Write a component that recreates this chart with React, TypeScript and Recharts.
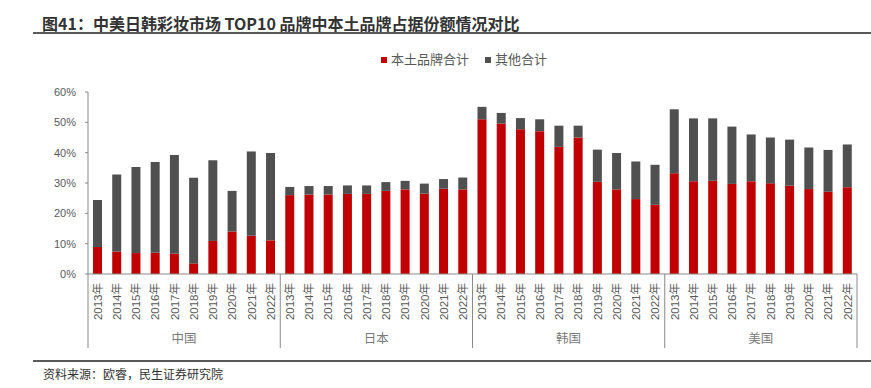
import React from "react";
import { BarChart, Bar, XAxis, YAxis } from "recharts";

const countries = ["中国", "日本", "韩国", "美国"];
const years = ["2013年", "2014年", "2015年", "2016年", "2017年", "2018年", "2019年", "2020年", "2021年", "2022年"];

// 本土品牌合计 (%)
const chinaLocal = [8.9, 7.4, 6.9, 7.0, 6.7, 3.5, 10.9, 14.0, 12.6, 11.1];
const japanLocal = [26.0, 26.2, 26.2, 26.4, 26.4, 27.4, 27.9, 26.5, 28.1, 27.9];
const koreaLocal = [51.0, 49.6, 47.7, 47.1, 41.9, 45.0, 30.4, 27.9, 24.7, 22.8];
const usLocal = [33.2, 30.6, 30.7, 29.7, 30.6, 29.9, 29.1, 28.0, 27.1, 28.6];

// 其他合计 (%)
const chinaOther = [15.5, 25.4, 28.4, 29.9, 32.5, 28.2, 26.6, 13.4, 27.8, 28.8];
const japanOther = [2.7, 2.8, 2.8, 2.8, 2.8, 2.9, 2.8, 3.3, 3.2, 3.9];
const koreaOther = [4.1, 3.5, 3.7, 3.9, 7.0, 3.9, 10.6, 12.0, 12.4, 13.2];
const usOther = [21.1, 20.7, 20.6, 18.9, 15.4, 15.1, 15.2, 13.7, 13.8, 14.1];

const yTicks = [0, 10, 20, 30, 40, 50, 60];

const localByCountry = [chinaLocal, japanLocal, koreaLocal, usLocal];
const otherByCountry = [chinaOther, japanOther, koreaOther, usOther];

const data = countries.flatMap((c, ci) =>
  years.map((y, yi) => ({
    key: `${c}-${y}`,
    year: y,
    country: c,
    local: localByCountry[ci][yi],
    other: otherByCountry[ci][yi],
  }))
);

const W = 871;
const H = 388;
const LEFT = 88;
const RIGHT = 14;
const TOP = 92;
const XH = 114;
const band = (W - LEFT - RIGHT) / data.length;

const FONT = "'Liberation Sans', 'Noto Sans CJK SC', sans-serif";
const RED = "#C00000";
const GRAY = "#505050";
const AXIS = "#898989";

const YearTick = (props: any) => {
  const { x, y, payload } = props;
  const idx = payload.index;
  const half = band / 2;
  const row = data[idx];
  return (
    <g>
      <text
        transform={`translate(${x},${y + 9}) rotate(-90)`}
        textAnchor="end"
        dy="0.36em"
        fontSize={11.5}
        fill="#595959"
        fontFamily={FONT}
      >
        {row ? row.year : payload.value}
      </text>
      {idx % 10 === 0 && (
        <line x1={x - half} x2={x - half} y1={y} y2={y + 74} stroke={AXIS} strokeWidth={1} />
      )}
      {idx === data.length - 1 && (
        <line x1={x + half} x2={x + half} y1={y} y2={y + 74} stroke={AXIS} strokeWidth={1} />
      )}
      {idx % 10 === 4 && (
        <text x={x + half} y={y + 65} dy="0.35em" textAnchor="middle" fontSize={12.5} fill="#7a7a7a" fontFamily={FONT}>
          {row.country}
        </text>
      )}
    </g>
  );
};

const App = () => {
  return (
    <div style={{ position: "absolute", left: 0, top: 0, width: W, height: H, background: "#fff", fontFamily: FONT }}>
      <div
        style={{
          position: "absolute",
          left: 42,
          top: 13,
          fontSize: 16,
          fontWeight: "bold",
          color: "#333",
          lineHeight: "20px",
          whiteSpace: "nowrap",
          fontFamily: "'Noto Sans CJK SC', sans-serif",
        }}
      >
        图41：中美日韩彩妆市场 TOP10 品牌中本土品牌占据份额情况对比
      </div>
      <div style={{ position: "absolute", left: 33, top: 32, width: W - 33, height: 2, background: "#5a5a5a" }} />

      <div
        style={{
          position: "absolute",
          left: 381,
          top: 52,
          display: "flex",
          alignItems: "center",
          fontSize: 13,
          color: "#595959",
          lineHeight: "16px",
          whiteSpace: "nowrap",
        }}
      >
        <span style={{ display: "inline-block", width: 6, height: 6, background: RED, marginRight: 4 }} />
        <span>本土品牌合计</span>
        <span style={{ display: "inline-block", width: 6, height: 6, background: GRAY, marginLeft: 16, marginRight: 4 }} />
        <span>其他合计</span>
      </div>

      <BarChart width={W} height={H} data={data} margin={{ top: TOP, right: RIGHT, bottom: 0, left: 0 }}>
        <XAxis
          dataKey="key"
          interval={0}
          height={XH}
          tickLine={false}
          tickSize={0}
          tickMargin={0}
          axisLine={{ stroke: AXIS }}
          tick={<YearTick />}
        />
        <YAxis
          width={LEFT}
          domain={[0, 60]}
          ticks={yTicks}
          interval={0}
          tickSize={3}
          tickMargin={9}
          axisLine={{ stroke: AXIS }}
          tickLine={{ stroke: AXIS }}
          tickFormatter={(v: number) => `${v}%`}
          tick={{ fontSize: 11, fill: "#595959", fontFamily: FONT }}
        />
        <Bar dataKey="local" stackId="a" fill={RED} barSize={9} isAnimationActive={false} />
        <Bar dataKey="other" stackId="a" fill={GRAY} barSize={9} isAnimationActive={false} />
      </BarChart>

      <div style={{ position: "absolute", left: 33, top: 360, width: W - 33, height: 2, background: "#5a5a5a" }} />
      <div
        style={{
          position: "absolute",
          left: 43,
          top: 366,
          fontSize: 12,
          color: "#333",
          lineHeight: "16px",
          whiteSpace: "nowrap",
          fontFamily: "'Noto Sans CJK SC', sans-serif",
        }}
      >
        资料来源：欧睿，民生证券研究院
      </div>
    </div>
  );
};

export default App;
